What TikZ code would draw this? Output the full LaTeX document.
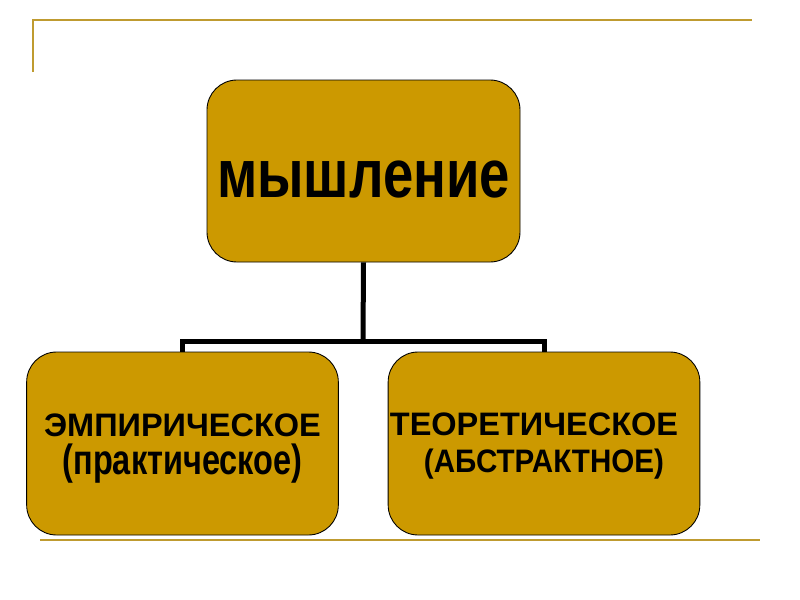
\documentclass[tikz,border=0pt]{standalone}
\usepackage{fontspec}
\setmainfont{Liberation Sans}
\usepackage{graphicx}
\usepackage{xcolor}
\usepackage{tikz}
\usetikzlibrary{calc,positioning}
\definecolor{gold}{HTML}{CC9900}
\definecolor{rulegold}{HTML}{BF9B30}

\begin{document}
\begin{tikzpicture}[x=0.9pt,y=-0.9pt,
  topbox/.style={draw=black,line width=0.8pt,fill=gold,rounded corners=27pt,minimum width=281.7pt,minimum height=163.8pt,inner sep=0pt,font=\bfseries\fontsize{49}{50}\selectfont,text depth=0pt,text height=46.8pt},
  subbox/.style={draw=black,line width=0.8pt,fill=gold,rounded corners=27pt,minimum width=280.5pt,minimum height=164.7pt,inner sep=0pt,align=center,font=\bfseries\fontsize{29.25}{33}\selectfont\setlength{\lineskiplimit}{-40pt}},
  conn/.style={line width=4.5pt},
  rule/.style={rulegold,line width=1.8pt}]
\useasboundingbox (0,0) rectangle (800,600);
\draw[rule] (32.7,72) |- (752,19.7);
\draw[rule] (40,539.7)--(760,539.7);
\node[topbox] (think) at (363.5,171) {\scalebox{1}[1.25]{мышление}};
\node[subbox] (emp) at (182.5,443.5) {\rule{0pt}{30pt}ЭМПИРИЧЕСКОЕ\\[1.5pt]{\scalebox{1}[1.3]{(практическое)}}};
\node[subbox] (theo) at (544,443.5) {\rule{0pt}{25.3pt}ТЕОРЕТИЧЕСКОЕ\hspace*{18pt}\\{\scalebox{0.91}[1]{(АБСТРАКТНОЕ)}}};
\coordinate (fork) at (363,341);
\draw[conn] (think.south)--(fork);
\draw[conn] (emp.north) |- (fork) -| (theo.north);
\end{tikzpicture}
\end{document}
